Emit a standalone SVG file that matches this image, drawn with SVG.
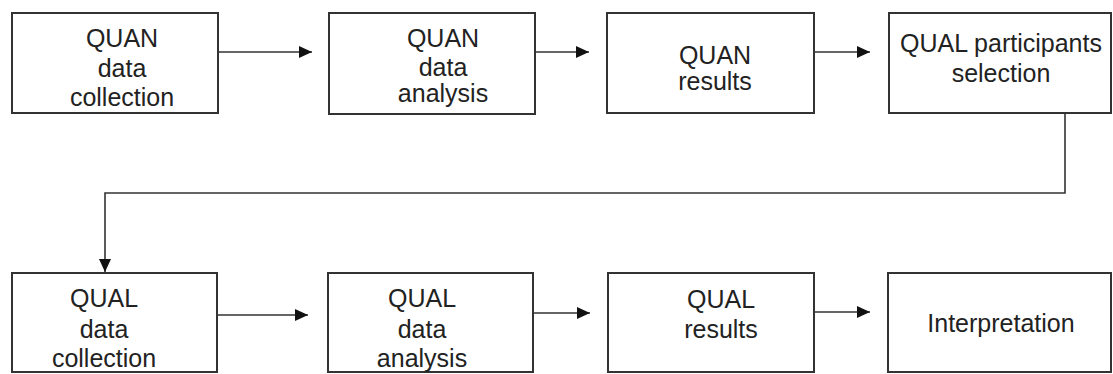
<svg xmlns="http://www.w3.org/2000/svg" width="1113" height="374" viewBox="0 0 1113 374">
<style>
.box{fill:#fff;stroke:#333;stroke-width:2}
.t{font-family:"Liberation Sans",Arial,sans-serif;font-size:25px;fill:#222;text-anchor:middle}
.c{fill:none;stroke:#333;stroke-width:1.6}
</style>
<defs>
<marker id="ah" markerUnits="userSpaceOnUse" markerWidth="13" markerHeight="13" refX="13" refY="6.5" orient="auto">
<path d="M0,0.5 L13,6.5 L0,12.5 z" fill="#111"/>
</marker>
</defs>
<rect width="1113" height="374" fill="#fff"/>
<g id="n1"><rect class="box" x="12" y="13" width="206" height="100"/>
<text class="t" x="122" y="47">QUAN</text><text class="t" x="122" y="77">data</text><text class="t" x="122" y="106">collection</text></g>
<g id="n2"><rect class="box" x="329" y="13" width="206" height="101"/>
<text class="t" x="443" y="47">QUAN</text><text class="t" x="443" y="76">data</text><text class="t" x="443" y="102">analysis</text></g>
<g id="n3"><rect class="box" x="607" y="13" width="207" height="100"/>
<text class="t" x="715" y="64">QUAN</text><text class="t" x="715" y="90">results</text></g>
<g id="n4"><rect class="box" x="889" y="13" width="222" height="100"/>
<text class="t" x="1001" y="52">QUAL participants</text><text class="t" x="1001" y="82">selection</text></g>
<g id="n5"><rect class="box" x="12" y="273" width="205" height="99"/>
<text class="t" x="104" y="307">QUAL</text><text class="t" x="104" y="338">data</text><text class="t" x="104" y="367">collection</text></g>
<g id="n6"><rect class="box" x="328" y="273" width="205" height="99"/>
<text class="t" x="422" y="307">QUAL</text><text class="t" x="422" y="338">data</text><text class="t" x="422" y="367">analysis</text></g>
<g id="n7"><rect class="box" x="608" y="273" width="206" height="99"/>
<text class="t" x="721" y="308">QUAL</text><text class="t" x="721" y="338">results</text></g>
<g id="n8"><rect class="box" x="888" y="273" width="223" height="99"/>
<text class="t" x="1001" y="332">Interpretation</text></g>
<g id="connectors">
<line class="c" x1="218" y1="52" x2="312" y2="52" marker-end="url(#ah)"/>
<line class="c" x1="535" y1="52" x2="589" y2="52" marker-end="url(#ah)"/>
<line class="c" x1="814" y1="52" x2="870" y2="52" marker-end="url(#ah)"/>
<polyline class="c" points="1065,113 1065,193 105,193 105,272" marker-end="url(#ah)"/>
<line class="c" x1="217" y1="315" x2="308" y2="315" marker-end="url(#ah)"/>
<line class="c" x1="533" y1="313" x2="590" y2="313" marker-end="url(#ah)"/>
<line class="c" x1="814" y1="312" x2="870" y2="312" marker-end="url(#ah)"/>
</g>
</svg>
